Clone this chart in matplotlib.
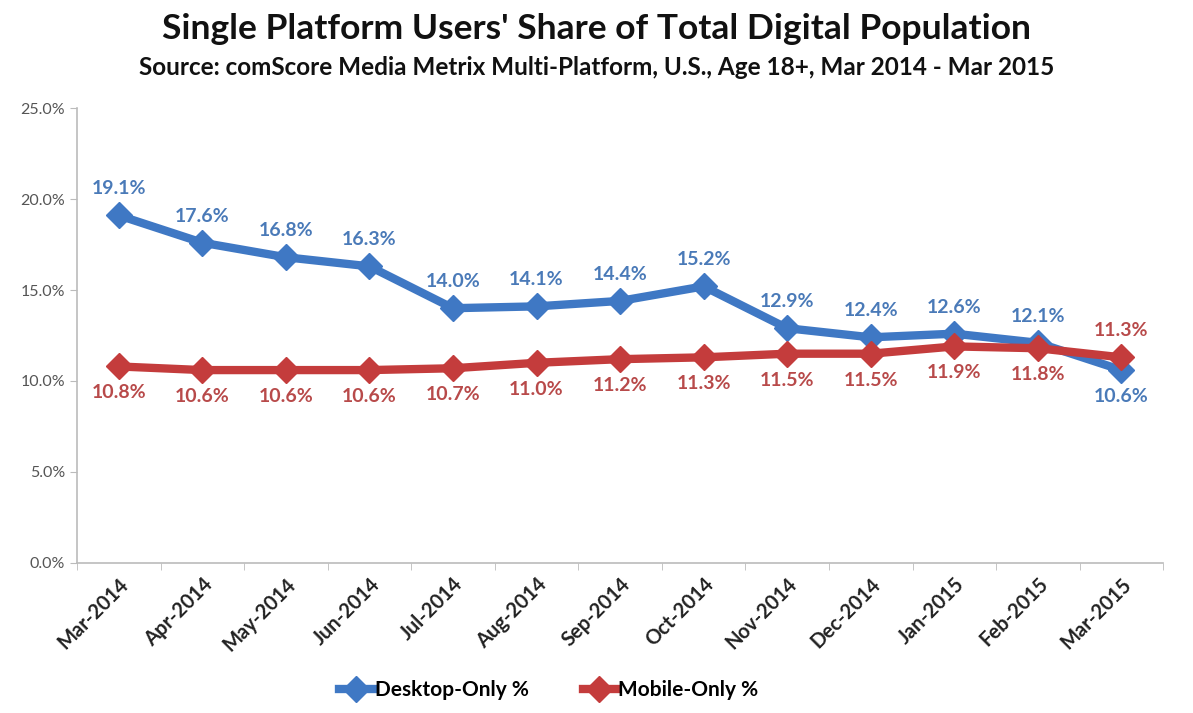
import matplotlib
matplotlib.use("Agg")
import matplotlib.pyplot as plt
from matplotlib.ticker import FuncFormatter, FixedLocator, NullFormatter

months = ["Mar-2014", "Apr-2014", "May-2014", "Jun-2014", "Jul-2014", "Aug-2014",
          "Sep-2014", "Oct-2014", "Nov-2014", "Dec-2014", "Jan-2015", "Feb-2015", "Mar-2015"]
desktop_only = [19.1, 17.6, 16.8, 16.3, 14.0, 14.1, 14.4, 15.2, 12.9, 12.4, 12.6, 12.1, 10.6]
mobile_only = [10.8, 10.6, 10.6, 10.6, 10.7, 11.0, 11.2, 11.3, 11.5, 11.5, 11.9, 11.8, 11.3]

BLUE = "#3f78c4"
RED = "#c43c3c"
BLUE_TXT = "#4a7ab8"
RED_TXT = "#b84a4a"

plt.rcParams["font.family"] = ["Lato", "DejaVu Sans"]

fig = plt.figure(figsize=(11.93, 7.13), dpi=100)
ax = fig.add_axes([0.0645, 0.2104, 0.9105, 0.6381])

x = list(range(len(months)))
ax.plot(x, desktop_only, color=BLUE, lw=6, marker="D", ms=13, label="Desktop-Only %", zorder=3)
ax.plot(x, mobile_only, color=RED, lw=6, marker="D", ms=13, label="Mobile-Only %", zorder=4)

n = len(months)
for i in range(n):
    d_up = desktop_only[i] >= mobile_only[i]
    ax.annotate(f"{desktop_only[i]:.1f}%", (x[i], desktop_only[i]),
                xytext=(0, 13 if d_up else -13), textcoords="offset points",
                ha="center", va="bottom" if d_up else "top",
                fontsize=14, fontweight="bold", color=BLUE_TXT)
    ax.annotate(f"{mobile_only[i]:.1f}%", (x[i], mobile_only[i]),
                xytext=(0, -13 if d_up else 13), textcoords="offset points",
                ha="center", va="top" if d_up else "bottom",
                fontsize=14, fontweight="bold", color=RED_TXT)

ax.set_xlim(-0.5, n - 0.5)
ax.set_ylim(0, 25)
ax.set_yticks([0, 5, 10, 15, 20, 25])
ax.yaxis.set_major_formatter(FuncFormatter(lambda v, _: f"{v:.1f}%"))
ax.tick_params(axis="y", labelsize=11.5, colors="#555555", length=5, color="#bbbbbb")

ax.set_xticks(x)
ax.set_xticklabels(months, rotation=45, ha="right", rotation_mode="anchor",
                   fontsize=14.5, fontweight="bold", color="#222222")
ax.tick_params(axis="x", which="major", length=0, pad=8)
ax.xaxis.set_minor_locator(FixedLocator([i - 0.5 for i in range(n + 1)]))
ax.xaxis.set_minor_formatter(NullFormatter())
ax.tick_params(axis="x", which="minor", length=5, color="#bbbbbb")

for s in ["top", "right"]:
    ax.spines[s].set_visible(False)
for s in ["left", "bottom"]:
    ax.spines[s].set_color("#bbbbbb")
    ax.spines[s].set_linewidth(1.2)

fig.text(0.5, 0.96, "Single Platform Users' Share of Total Digital Population",
         ha="center", va="center", fontsize=25.5, fontweight="bold", color="#111111")
fig.text(0.5, 0.905, "Source: comScore Media Metrix Multi-Platform, U.S., Age 18+, Mar 2014 - Mar 2015",
         ha="center", va="center", fontsize=17.5, fontweight="bold", color="#111111")

fig.legend(loc="center", bbox_to_anchor=(0.46, 0.032), ncol=2, frameon=False,
           prop={"size": 15, "weight": "bold"}, handlelength=1.6, handletextpad=0.1,
           columnspacing=2.6)

fig.savefig("out.png", dpi=100, facecolor="white")
